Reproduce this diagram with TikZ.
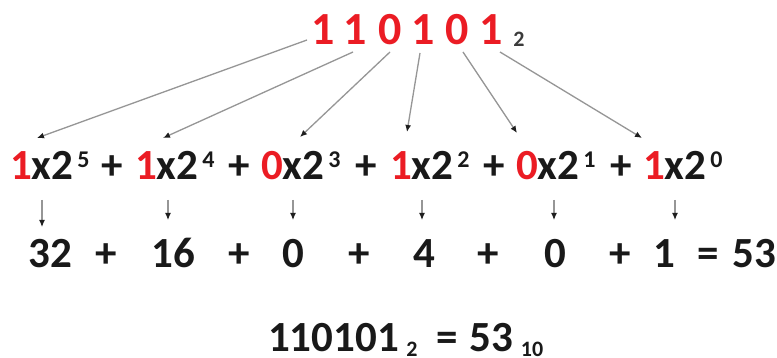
\documentclass[tikz,border=0pt]{standalone}
\usepackage{fontspec}
\setmainfont{Carlito}
\usetikzlibrary{arrows.meta}
\definecolor{bred}{RGB}{235,28,36}
\definecolor{ink}{RGB}{25,25,25}
\definecolor{lgray}{RGB}{150,150,150}
\definecolor{tipc}{RGB}{30,30,30}
\newcommand{\supd}[1]{\kern4pt\raisebox{12pt}{\fontsize{24}{24}\selectfont #1}}
\begin{document}
\begin{tikzpicture}[x=1pt,y=1pt,
  every node/.style={inner sep=0pt, outer sep=0pt, font=\bfseries\fontsize{43}{43}\selectfont, text=ink},
  topdig/.style={anchor=base, text=bred, font=\bfseries\fontsize{46}{46}\selectfont},
  coef/.style={anchor=base, text=bred},
  rest/.style={anchor=base west},
  sym/.style={anchor=base},
  val/.style={anchor=base},
  small/.style={anchor=base, font=\bfseries\fontsize{22}{22}\selectfont},
  bigarr/.style={draw=lgray, line width=1.3pt, -{Latex[length=7pt,width=6pt,color=tipc]}},
  smallarr/.style={draw=lgray, line width=1.2pt, -{Latex[length=7pt,width=6pt,color=tipc]}}
]
\fill[white] (0,0) rectangle (777,358);
\useasboundingbox (0,0) rectangle (777,358);

% top binary number
\node[topdig] (b5) at (323,313) {1};
\node[topdig] (b4) at (355,313) {1};
\node[topdig] (b3) at (390,313) {0};
\node[topdig] (b2) at (423,313) {1};
\node[topdig] (b1) at (457,313) {0};
\node[topdig] (b0) at (491,313) {1};
\node[small, text=ink!85] (bsub) at (519,311) {2};

% expansion terms
\node[coef] (c5) at (21,178) {1};
\node[rest] (r5) at (c5.base east) {x2\supd{5}};
\node[sym] (p1) at (112,178) {+};
\node[coef] (c4) at (146,178) {1};
\node[rest] (r4) at (c4.base east) {x2\supd{4}};
\node[sym] (p2) at (239,178) {+};
\node[coef] (c3) at (272,178) {0};
\node[rest] (r3) at (c3.base east) {x2\supd{3}};
\node[sym] (p3) at (366,178) {+};
\node[coef] (c2) at (401,178) {1};
\node[rest] (r2) at (c2.base east) {x2\supd{2}};
\node[sym] (p4) at (494,178) {+};
\node[coef] (c1) at (527,178) {0};
\node[rest] (r1) at (c1.base east) {x2\supd{1}};
\node[sym] (p5) at (621,178) {+};
\node[coef] (c0) at (654,178) {1};
\node[rest] (r0) at (c0.base east) {x2\supd{0}};

% values
\node[val] (v5) at (50,90) {32};
\node[sym] (q1) at (106,90) {+};
\node[val] (v4) at (173,90) {16};
\node[sym] (q2) at (239,90) {+};
\node[val] (v3) at (293,90) {0};
\node[sym] (q3) at (359,90) {+};
\node[val] (v2) at (424,90) {4};
\node[sym] (q4) at (488,90) {+};
\node[val] (v1) at (555,90) {0};
\node[sym] (q5) at (620,90) {+};
\node[val] (v0) at (664,90) {1};
\node[sym] (eq) at (708,90) {=};
\node[val] (tot) at (754,90) {53};

% result line
\node[anchor=base west] (res) at (268,6) {110101};
\node[small] (rsub) at (412,1) {2};
\node[sym] (req) at (447,6) {=};
\node[val] (rdec) at (491,6) {53};
\node[small] (rsub2) at (532,1) {10};

% big arrows
\draw[bigarr] ([shift={(-16,5)}]b5.base) -- ([shift={(16,42)}]c5.base);
\draw[bigarr] ([shift={(-2,-7)}]b4.base) -- ([shift={(17,42)}]c4.base);
\draw[bigarr] ([shift={(0,-7)}]b3.base) -- ([shift={(28,43)}]c3.base);
\draw[bigarr] ([shift={(-3,-8)}]b2.base) -- ([shift={(6,48)}]c2.base);
\draw[bigarr] ([shift={(6,-7)}]b1.base) -- ([shift={(-10,47)}]c1.base);
\draw[bigarr] ([shift={(9,-7)}]b0.base) -- ([shift={(-12,42)}]c0.base);

% small arrows
\draw[smallarr] ([shift={(21,-20)}]c5.base) -- ([shift={(-8,41)}]v5.base);
\draw[smallarr] ([shift={(22,-20)}]c4.base) -- ([shift={(-5,48)}]v4.base);
\draw[smallarr] ([shift={(21,-20)}]c3.base) -- ([shift={(0,48)}]v3.base);
\draw[smallarr] ([shift={(21,-20)}]c2.base) -- ([shift={(-2,48)}]v2.base);
\draw[smallarr] ([shift={(27,-20)}]c1.base) -- ([shift={(-1,48)}]v1.base);
\draw[smallarr] ([shift={(21,-20)}]c0.base) -- ([shift={(11,48)}]v0.base);
\end{tikzpicture}
\end{document}
